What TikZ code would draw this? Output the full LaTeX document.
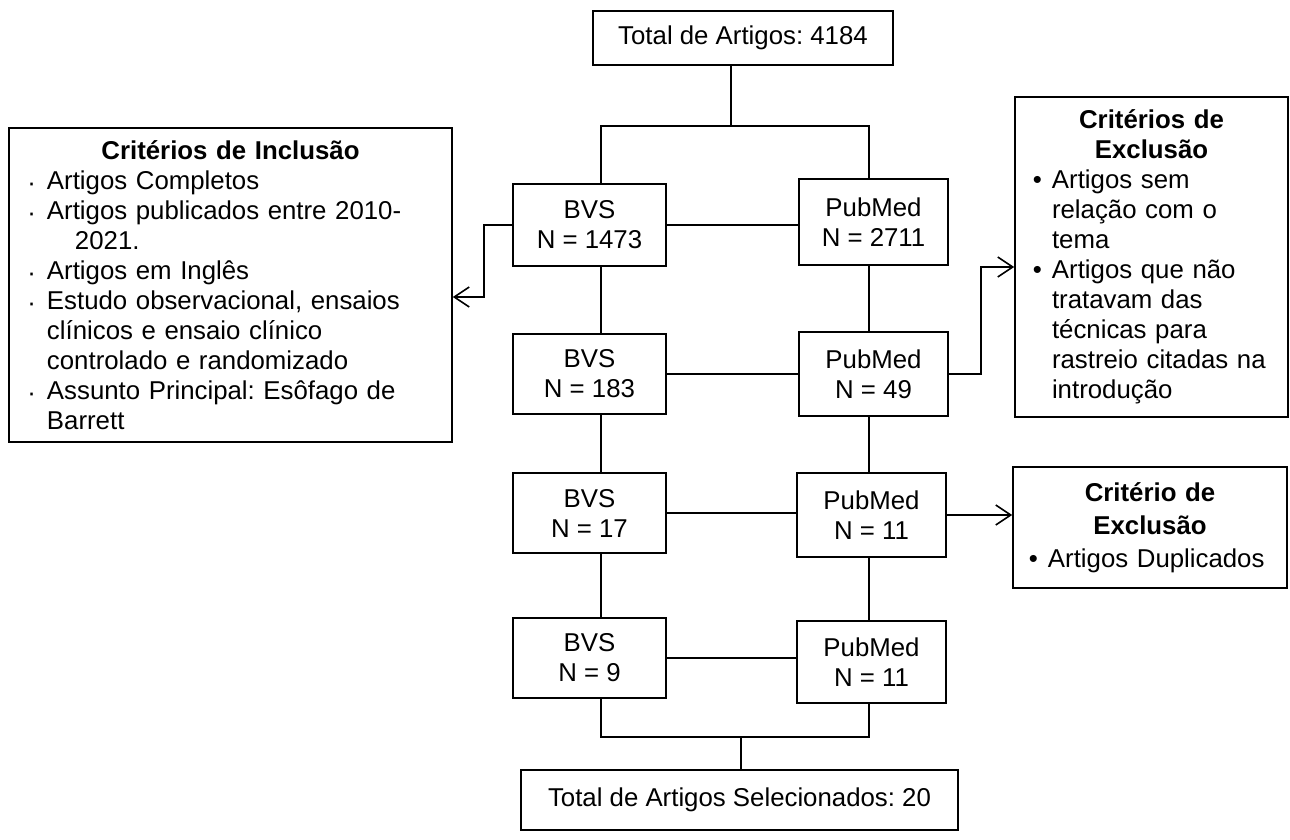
\documentclass[tikz,border=0pt]{standalone}
\usepackage{fontspec}
\setmainfont{Liberation Sans}
\usetikzlibrary{arrows.meta,calc}
\frenchspacing
\tikzset{
  box/.style={draw, line width=1.6pt, align=center, inner sep=0pt, font=\fontsize{25.8pt}{30pt}\selectfont\frenchspacing},
  link/.style={line width=1.6pt},
  arr/.style={line width=1.6pt, -{Straight Barb[length=15pt,width=20pt,line width=1.6pt]}},
}
\newcommand{\incbul}{\hspace*{38pt}\llap{\raisebox{-2pt}{·}\hspace{11pt}}}
\newcommand{\incind}{\hspace*{38pt}}
\newcommand{\excbul}{\hspace*{37pt}\llap{•\hspace{10pt}}}
\newcommand{\excind}{\hspace*{37pt}}
\begin{document}
\begin{tikzpicture}[x=1pt,y=-1pt]
\useasboundingbox[fill=white] (0,0) rectangle (1290,840);

\node[box, minimum width=300pt, minimum height=54pt] (top) at (743,38) {Total de Artigos: 4184};

\node[box, minimum width=153pt, minimum height=82pt] (b1) at (589.5,225) {BVS\\N = 1473};
\node[box, minimum width=149pt, minimum height=86pt] (p1) at (873.5,222) {PubMed\\N = 2711};
\node[box, minimum width=153pt, minimum height=80pt] (b2) at (589.5,374) {BVS\\N = 183};
\node[box, minimum width=149pt, minimum height=84pt] (p2) at (873.5,374) {PubMed\\N = 49};
\node[box, minimum width=153pt, minimum height=80pt] (b3) at (589.5,513) {BVS\\N = 17};
\node[box, minimum width=149pt, minimum height=84pt] (p3) at (871.5,515) {PubMed\\N = 11};
\node[box, minimum width=153pt, minimum height=80pt] (b4) at (589.5,658) {BVS\\N = 9};
\node[box, minimum width=149pt, minimum height=82pt] (p4) at (871.5,662) {PubMed\\N = 11};

\node[box, minimum width=437pt, minimum height=60pt] (final) at (739.5,800) {Total de Artigos Selecionados: 20};

\node[box, minimum width=443pt, minimum height=314pt, text width=443pt, align=left] (incl) at (230.5,285) {%
\makebox[443pt]{\bfseries Critérios de Inclusão}\\
\incbul Artigos Completos\\
\incbul Artigos publicados entre 2010-\\
\hspace*{66pt}2021.\\
\incbul Artigos em Inglês\\
\incbul Estudo observacional, ensaios\\
\incind clínicos e ensaio clínico\\
\incind controlado e randomizado\\
\incbul Assunto Principal: Esôfago de\\
\incind Barrett};

\node[box, minimum width=273pt, minimum height=320pt, text width=273pt, align=left] (exc1) at (1151.5,257) {%
\makebox[273pt]{\bfseries Critérios de}\\
\makebox[273pt]{\bfseries Exclusão}\\
\excbul Artigos sem\\
\excind relação com o\\
\excind tema\\
\excbul Artigos que não\\
\excind tratavam das\\
\excind técnicas para\\
\excind rastreio citadas na\\
\excind introdução};

\node[box, minimum width=274pt, minimum height=121pt, text width=274pt, align=left, font=\fontsize{25.8pt}{33pt}\selectfont\frenchspacing] (exc2) at (1150,527.5) {%
\makebox[274pt]{\bfseries Critério de}\\
\makebox[274pt]{\bfseries Exclusão}\\
\hspace*{-2pt}\excbul Artigos Duplicados};

\coordinate (colB) at (601,0);
\coordinate (colP) at (869,0);
\coordinate (j1) at (731,126);
\coordinate (ia) at (484,297);
\coordinate (ea) at (981,267);
\coordinate (m) at (741,737);

\draw[link] (top.south -| j1) -- (j1);
\draw[link] (b1.north -| colB) |- (j1) -| (p1.north -| colP);

\draw[link] (b1.east) -- (b1.east -| p1.west);
\draw[link] (b2.east) -- (b2.east -| p2.west);
\draw[link] (b3.east) -- (b3.east -| p3.west);
\draw[link] (b4.east) -- (b4.east -| p4.west);

\draw[link] (b1.south -| colB) -- (b2.north -| colB);
\draw[link] (b2.south -| colB) -- (b3.north -| colB);
\draw[link] (b3.south -| colB) -- (b4.north -| colB);
\draw[link] (p1.south -| colP) -- (p2.north -| colP);
\draw[link] (p2.south -| colP) -- (p3.north -| colP);
\draw[link] (p3.south -| colP) -- (p4.north -| colP);

\draw[link] (b4.south -| colB) |- (m) -| (p4.south -| colP);
\draw[link] (m) -- (m |- final.north);

\draw[arr] (b1.west) -| (ia) -- (ia -| incl.east);
\draw[arr] (p2.east) -| (ea) -- (ea -| exc1.west);
\draw[arr] (p3.east) -- (p3.east -| exc2.west);
\end{tikzpicture}
\end{document}
